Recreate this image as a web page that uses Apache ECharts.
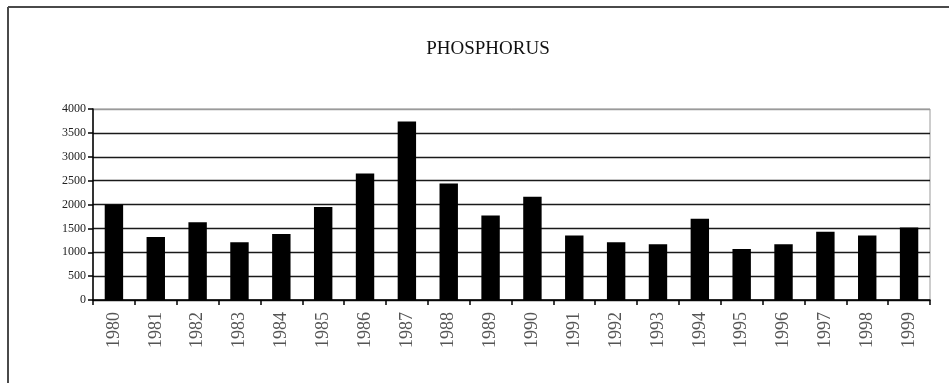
<!DOCTYPE html>
<html>
<head>
<meta charset="utf-8">
<script src="https://cdn.jsdelivr.net/npm/echarts@6/dist/echarts.min.js"></script>
<style>
  html, body { margin: 0; padding: 0; background: #fff; }
  #chart { width: 949px; height: 383px; }
</style>
</head>
<body>
<div id="chart"></div>
<script>
// Annual phosphorus figures, 1980-1999
const years = ['1980','1981','1982','1983','1984','1985','1986','1987','1988','1989',
               '1990','1991','1992','1993','1994','1995','1996','1997','1998','1999'];
const phosphorus = [2000, 1320, 1630, 1210, 1380, 1950, 2650, 3740, 2440, 1770,
                    2160, 1350, 1210, 1170, 1700, 1070, 1170, 1430, 1350, 1520];
const yTicks = [0, 500, 1000, 1500, 2000, 2500, 3000, 3500, 4000];

const serif = '"Liberation Serif", "DejaVu Serif", serif';
const chart = echarts.init(document.getElementById('chart'), null, { renderer: 'canvas' });

// grid lines are black, the topmost one is the light plot border
const splitColors = yTicks.map((v, i) => i === yTicks.length - 1 ? '#9a9a9a' : '#1a1a1a');

chart.setOption({
  animation: false,
  backgroundColor: '#ffffff',
  title: {
    text: 'PHOSPHORUS',
    left: 483,
    textAlign: 'center',
    top: 35,
    textStyle: { fontFamily: serif, fontSize: 19, fontWeight: 'normal', color: '#111' }
  },
  graphic: [
    { type: 'line', shape: { x1: 8, y1: 7, x2: 949, y2: 7 }, style: { stroke: '#4a4a4a', lineWidth: 2 } },
    { type: 'line', shape: { x1: 8, y1: 7, x2: 8, y2: 383 }, style: { stroke: '#4a4a4a', lineWidth: 2 } }
  ],
  grid: {
    left: 93, right: 19, top: 109, bottom: 83,
    show: true, borderColor: '#9a9a9a', borderWidth: 1, backgroundColor: 'transparent'
  },
  xAxis: {
    type: 'category',
    data: years,
    axisLine: { show: true, lineStyle: { color: '#000', width: 1.5 } },
    axisTick: { show: true, alignWithLabel: false, length: 5, lineStyle: { color: '#000', width: 1.5 } },
    axisLabel: {
      rotate: 90, margin: 12, interval: 0,
      fontFamily: serif, fontSize: 18, color: '#555'
    },
    splitLine: { show: false }
  },
  yAxis: {
    type: 'value',
    min: 0, max: 4000, interval: 500,
    axisLine: { show: true, lineStyle: { color: '#000', width: 1.5 } },
    axisTick: { show: true, length: 5, lineStyle: { color: '#000', width: 1.5 } },
    axisLabel: {
      margin: 7, fontFamily: serif, fontSize: 12, color: '#222',
      formatter: (v) => String(v)
    },
    splitLine: { show: true, lineStyle: { color: splitColors, width: 1.3 } }
  },
  series: [{
    type: 'bar',
    data: phosphorus,
    barWidth: '44%',
    itemStyle: { color: '#000' }
  }]
});
</script>
</body>
</html>
